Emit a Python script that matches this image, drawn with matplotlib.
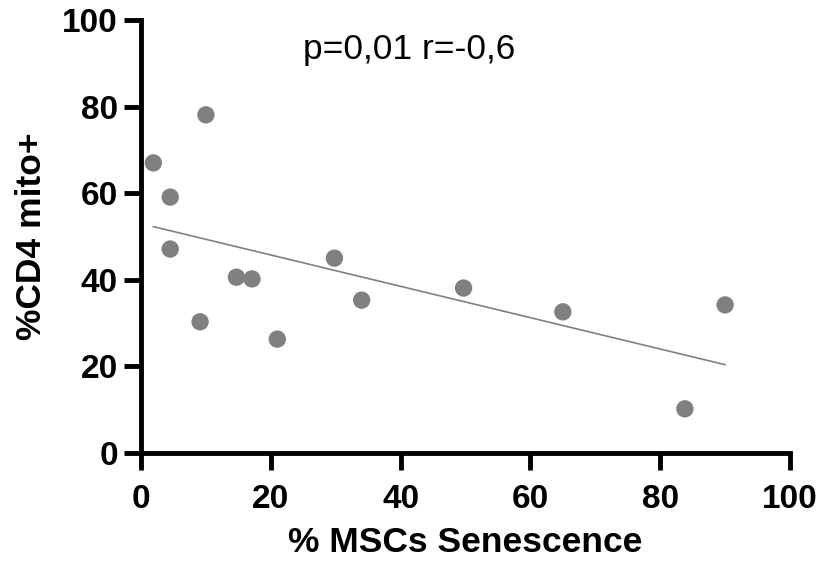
import numpy as np
import matplotlib
matplotlib.use("Agg")
import matplotlib.pyplot as plt

plt.rcParams['font.family'] = ['Liberation Sans', 'DejaVu Sans']

# % MSCs senescence vs % CD4 mito+ per donor
senescence = [1.9, 10.0, 4.5, 4.5, 9.1, 14.7, 17.1, 21.0, 29.8, 34.0, 49.7, 65.0, 83.8, 90.0]
cd4_mito = [67.0, 78.1, 59.1, 47.1, 30.3, 40.6, 40.2, 26.3, 45.0, 35.3, 38.1, 32.6, 10.2, 34.2]
x_ticks = [0, 20, 40, 60, 80, 100]
y_ticks = [0, 20, 40, 60, 80, 100]
stats_label = "p=0,01 r=-0,6"

x = np.array(senescence)
y = np.array(cd4_mito)

fig = plt.figure(figsize=(8.2, 5.62), dpi=100)
ax = fig.add_axes([141 / 820, 1 - 453 / 562, (790 - 141) / 820, (453 - 20) / 562])

ax.scatter(x, y, s=12.5 ** 2, color='#808080', edgecolors='none', zorder=3, clip_on=False)

# least-squares fit across the data range
slope, intercept = np.polyfit(x, y, 1)
xf = np.array([x.min(), x.max()])
ax.plot(xf, slope * xf + intercept, color='#808080', lw=1.2, zorder=2)

ax.set_xlim(0, 100)
ax.set_ylim(0, 100)
ax.set_xticks(x_ticks)
ax.set_yticks(y_ticks)

for side in ('top', 'right'):
    ax.spines[side].set_visible(False)
for side in ('left', 'bottom'):
    ax.spines[side].set_linewidth(3.5)
    ax.spines[side].set_capstyle('projecting')

ax.tick_params(axis='both', which='major', length=12.5, width=3.5, direction='out',
               labelsize=24)
ax.tick_params(axis='y', pad=4)
ax.tick_params(axis='x', pad=10)
for lab in ax.get_xticklabels() + ax.get_yticklabels():
    lab.set_fontweight('bold')

ax.set_xlabel('% MSCs Senescence', fontsize=25.5, fontweight='bold', labelpad=8)
ax.set_ylabel('%CD4 mito+', fontsize=25.5, fontweight='bold', labelpad=10)

ax.text(409 / 820, 1 - 50 / 562, stats_label, transform=fig.transFigure,
        ha='center', va='center', fontsize=25.5)

fig.savefig('out.png', dpi=100)
